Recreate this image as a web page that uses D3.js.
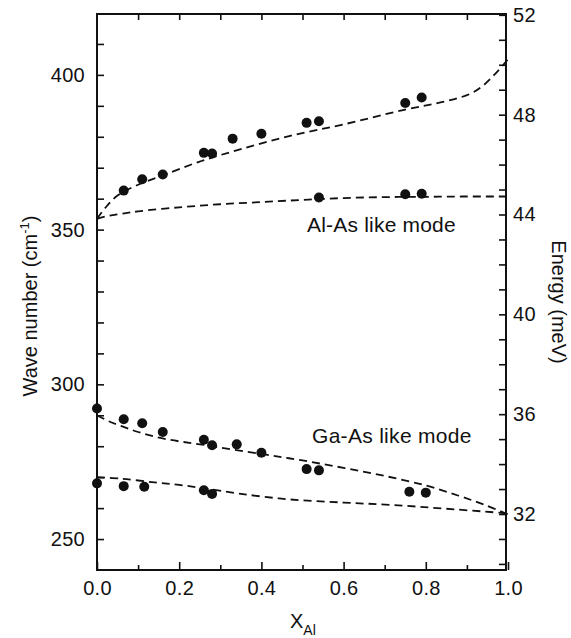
<!DOCTYPE html>
<html>
<head>
<meta charset="utf-8">
<script src="https://cdn.jsdelivr.net/npm/d3@7"></script>
<style>
  body { margin: 0; background: #fff; }
  svg { display: block; font-family: "Liberation Sans", Arial, sans-serif; }
</style>
</head>
<body>
<svg id="chart" width="571" height="638"></svg>
<script>
// measured points, x = Al fraction, w = wave number (cm-1)
const alAsUpperX = [0.065, 0.11, 0.16, 0.26, 0.28, 0.33, 0.40, 0.51, 0.54, 0.75, 0.79];
const alAsUpperW = [362.6, 366.3, 367.8, 374.8, 374.6, 379.4, 381.0, 384.5, 385.0, 390.9, 392.7];
const alAsLowerX = [0.54, 0.75, 0.79];
const alAsLowerW = [360.4, 361.4, 361.6];
const gaAsUpperX = [0.0, 0.065, 0.11, 0.16, 0.26, 0.28, 0.34, 0.40, 0.51, 0.54, 0.76, 0.80];
const gaAsUpperW = [292.2, 288.7, 287.4, 284.6, 282.1, 280.3, 280.6, 277.9, 272.6, 272.2, 265.3, 265.0];
const gaAsLowerX = [0.0, 0.065, 0.115, 0.26, 0.28];
const gaAsLowerW = [268.0, 267.1, 266.9, 265.8, 264.6];

// dashed model curves
const curveAX = [0, 0.02, 0.05, 0.1, 0.16, 0.25, 0.35, 0.47, 0.6, 0.75, 0.85, 0.91, 0.94, 0.97, 1.0];
const curveAW = [353.5, 357, 361, 364.5, 367.5, 372, 376, 380.3, 384, 388.8, 391.5, 394, 396.6, 400.5, 405];
const curveBX = [0, 0.03, 0.06, 0.1, 0.2, 0.3, 0.4, 0.5, 0.6, 0.7, 0.8, 0.9, 1.0];
const curveBW = [353.5, 354.5, 355.1, 355.9, 357.2, 358.2, 358.9, 359.6, 360.2, 360.5, 360.6, 360.7, 360.7];
const curveCX = [0, 0.03, 0.06, 0.1, 0.16, 0.26, 0.4, 0.5, 0.6, 0.7, 0.8, 0.88, 0.94, 1.0];
const curveCW = [290, 288, 286.5, 284.6, 282.5, 280.4, 277.5, 275.4, 273, 270.4, 267.3, 264, 261.2, 258];
const curveDX = [0, 0.06, 0.14, 0.2, 0.26, 0.35, 0.47, 0.6, 0.72, 0.85, 1.0];
const curveDW = [270, 269.5, 268.3, 267.5, 266.4, 264.6, 262.8, 261.8, 261, 259.8, 258.3];

const xTicks = [0, 0.2, 0.4, 0.6, 0.8, 1.0];
const wTicks = [250, 300, 350, 400];
const eTicks = [32, 36, 40, 44, 48, 52];
const cmPerMeV = 8.0655;

const svg = d3.select("#chart");
const plotLeft = 97, plotRight = 506, plotTop = 14, plotBottom = 570;

const x = d3.scaleLinear().domain([0, 1]).range([plotLeft, 508]);
const y = d3.scaleLinear().domain([240, 420]).range([plotBottom, 13]);
const e = d3.scaleLinear().domain([240 / cmPerMeV, 420 / cmPerMeV]).range([plotBottom, 13]);

const ink = "#111";

// frame
svg.append("rect")
    .attr("x", plotLeft).attr("y", plotTop)
    .attr("width", plotRight - plotLeft).attr("height", plotBottom - plotTop)
    .attr("fill", "none").attr("stroke", ink).attr("stroke-width", 2);

function styleAxis(g) {
    g.select(".domain").remove();
    g.selectAll("line").attr("stroke", ink).attr("stroke-width", 1.6);
    g.selectAll("text").attr("fill", ink).style("font-size", "20px").style("letter-spacing", "0.3px");
}

// left axis
svg.append("g").attr("transform", `translate(${plotLeft},0)`)
    .call(d3.axisLeft(y).tickValues(d3.range(250, 420, 10)).tickSize(-7).tickPadding(12)
        .tickFormat(d => wTicks.includes(d) ? d : ""))
    .call(styleAxis);

// right axis
svg.append("g").attr("transform", `translate(${plotRight},0)`)
    .call(d3.axisRight(e).tickValues(d3.range(30, 53, 1)).tickSize(-7).tickPadding(7)
        .tickFormat(d => eTicks.includes(d) ? d : ""))
    .call(styleAxis);

// bottom axis: minor then major
svg.append("g").attr("transform", `translate(0,${plotBottom})`)
    .call(d3.axisBottom(x).tickValues([0.1, 0.3, 0.5, 0.7, 0.9]).tickSize(-5).tickFormat(""))
    .call(styleAxis);
svg.append("g").attr("transform", `translate(0,${plotBottom})`)
    .call(d3.axisBottom(x).tickValues(xTicks).tickSize(-8).tickPadding(11).tickFormat(d3.format(".1f")))
    .call(styleAxis);

// top axis
svg.append("g").attr("transform", `translate(0,${plotTop})`)
    .call(d3.axisTop(x).tickValues([0.1, 0.2, 0.3, 0.4, 0.5, 0.6, 0.7, 0.8, 0.9]).tickSize(-6).tickFormat(""))
    .call(styleAxis);

// dashed curves
const line = d3.line().x(d => x(d[0])).y(d => y(d[1])).curve(d3.curveCatmullRom.alpha(0.5));
[[curveAX, curveAW], [curveBX, curveBW], [curveCX, curveCW], [curveDX, curveDW]].forEach(function(c) {
    svg.append("path")
        .datum(d3.zip(c[0], c[1]))
        .attr("d", line)
        .attr("fill", "none")
        .attr("stroke", ink)
        .attr("stroke-width", 1.8)
        .attr("stroke-dasharray", "8,5");
});

// dots
const dots = [].concat(
    d3.zip(alAsUpperX, alAsUpperW),
    d3.zip(alAsLowerX, alAsLowerW),
    d3.zip(gaAsUpperX, gaAsUpperW),
    d3.zip(gaAsLowerX, gaAsLowerW)
);
svg.append("g").selectAll("circle")
    .data(dots)
    .enter()
    .append("circle")
    .attr("cx", d => x(d[0]))
    .attr("cy", d => y(d[1]))
    .attr("r", 5)
    .attr("fill", ink);

// mode labels
svg.append("text").attr("x", 307).attr("y", 232)
    .style("font-size", "21px").style("letter-spacing", "0.2px").attr("fill", ink)
    .text("Al-As like mode");
svg.append("text").attr("x", 312).attr("y", 443)
    .style("font-size", "21px").style("letter-spacing", "0.3px").attr("fill", ink)
    .text("Ga-As like mode");

// axis titles
const wTitle = svg.append("text")
    .attr("transform", "translate(37,306) rotate(-90)")
    .attr("text-anchor", "middle")
    .style("font-size", "20px").attr("fill", ink);
wTitle.append("tspan").text("Wave number (cm");
wTitle.append("tspan").attr("dy", "-8").style("font-size", "13px").text("-1");
wTitle.append("tspan").attr("dy", "8").text(")");

svg.append("text")
    .attr("transform", "translate(552,302) rotate(90)")
    .attr("text-anchor", "middle")
    .style("font-size", "20px").attr("fill", ink)
    .text("Energy (meV)");

const xTitle = svg.append("text").attr("x", 290).attr("y", 628)
    .style("font-size", "20px").attr("fill", ink);
xTitle.append("tspan").text("X");
xTitle.append("tspan").attr("dy", "7").style("font-size", "14px").text("Al");
</script>
</body>
</html>
